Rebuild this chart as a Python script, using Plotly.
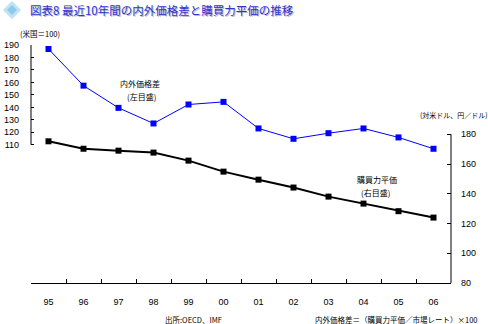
import plotly.graph_objects as go

# Fiscal years (labels) and the two series
years = ["95", "96", "97", "98", "99", "00", "01", "02", "03", "04", "05", "06"]
price_gap = [186.8, 157.4, 139.6, 127.1, 142.3, 144.4, 123.1, 114.8, 119.3, 123.1, 115.9, 106.8]  # 米国=100
ppp_yen = [175.3, 170.3, 169.0, 167.7, 162.3, 154.9, 149.5, 144.2, 138.1, 133.4, 128.3, 124.0]    # 円/ドル

left_ticks = [110, 120, 130, 140, 150, 160, 170, 180, 190]
right_ticks = [80, 100, 120, 140, 160, 180]

W, H = 488, 324
PL, PR, PT, PB = 31, 451, 45, 283.5  # plot box in pixels


def px(x, y):
    """Pixel position -> paper coordinates."""
    return (x - PL) / (PR - PL), (PB - y) / (PB - PT)


JP = "Noto Sans CJK JP, sans-serif"
NUM = "Liberation Sans, Arial, sans-serif"

fig = go.Figure()
fig.add_trace(go.Scatter(
    x=years, y=price_gap, mode="lines+markers", yaxis="y",
    line=dict(color="#0000ff", width=1),
    marker=dict(symbol="square", size=6, color="#0000ff"),
    cliponaxis=False, showlegend=False,
))
fig.add_trace(go.Scatter(
    x=years, y=ppp_yen, mode="lines+markers", yaxis="y2",
    line=dict(color="#000000", width=2),
    marker=dict(symbol="square", size=6, color="#000000"),
    cliponaxis=False, showlegend=False,
))

annos = []


def note(text, x, y, size=8, anchor="center", color="#000000", font=JP):
    ax, ay = px(x, y)
    annos.append(dict(text=text, x=ax, y=ay, xref="paper", yref="paper",
                      xanchor=anchor, yanchor="middle", showarrow=False,
                      font=dict(size=size, color=color, family=font)))


# Title with soft shadow
title = "図表8 最近10年間の内外価格差と購買力平価の推移"
note(title, 29, 11, size=11.5, anchor="left", color="#b8b8c8")
note(title, 28, 10, size=11.5, anchor="left", color="#3333cc")

note("(米国＝100)", 40, 33, size=7.5)
note("(対米ドル、円／ドル)", 418, 115, size=7, anchor="left")
note("内外価格差", 140, 84, size=8)
note("(左目盛)", 141, 97, size=8)
note("購買力平価", 377, 180, size=8)
note("(右目盛)", 375, 193, size=8)
note("出所:OECD、IMF", 163, 320, size=7.5, anchor="left")
note("内外価格差＝（購買力平価／市場レート）×100", 313, 320, size=7.5, anchor="left")

shapes = []
# Left scale line (110-190 only) and right scale line (80-180)
shapes.append(dict(type="line", xref="paper", yref="y", x0=0, x1=0, y0=110, y1=190,
                   line=dict(color="#000000", width=1)))
shapes.append(dict(type="line", xref="paper", yref="y2", x0=1, x1=1, y0=80, y1=180,
                   line=dict(color="#000000", width=1)))

# Diamond emblem beside the title
cx, cy, r = 12, 10, 9
pts = [px(cx, cy - r), px(cx + r, cy), px(cx, cy + r), px(cx - r, cy)]
path = "M " + " L ".join(f"{a},{b}" for a, b in pts) + " Z"
shapes.append(dict(type="path", xref="paper", yref="paper", path=path,
                   fillcolor="#bfe3f5", line=dict(color="#d8eef8", width=1)))
pts2 = [px(cx, cy - 5), px(cx + 5, cy), px(cx, cy + 5), px(cx - 5, cy)]
path2 = "M " + " L ".join(f"{a},{b}" for a, b in pts2) + " Z"
shapes.append(dict(type="path", xref="paper", yref="paper", path=path2,
                   fillcolor="#8fcbe8", line=dict(width=0)))

fig.update_layout(
    width=W, height=H,
    margin=dict(l=PL, r=W - PR, t=PT, b=H - PB, pad=0, autoexpand=False),
    paper_bgcolor="#ffffff", plot_bgcolor="#ffffff",
    xaxis=dict(type="category", range=[-0.5, 11.5], showgrid=False, zeroline=False,
               automargin=False,
               showline=True, linecolor="#000000", linewidth=1,
               ticks="inside", ticklen=4, tickcolor="#000000", tickson="boundaries",
               ticklabelstandoff=10,
               tickfont=dict(size=9, family=NUM, color="#000000")),
    yaxis=dict(range=[190 - (PB - PT) / 1.25, 190], tickvals=left_ticks,
               automargin=False,
               showgrid=False, zeroline=False, showline=False,
               ticks="inside", ticklen=3, tickcolor="#000000",
               ticklabelstandoff=11,
               tickfont=dict(size=9, family=NUM, color="#000000")),
    yaxis2=dict(range=[80, 80 + (PB - PT) / 1.49], tickvals=right_ticks,
                overlaying="y", side="right", automargin=False,
                showgrid=False, zeroline=False, showline=False,
                ticks="inside", ticklen=4, tickcolor="#000000",
                ticklabelstandoff=9,
                tickfont=dict(size=9, family=NUM, color="#000000")),
    annotations=annos,
    shapes=shapes,
)

fig.write_html("out.html")
